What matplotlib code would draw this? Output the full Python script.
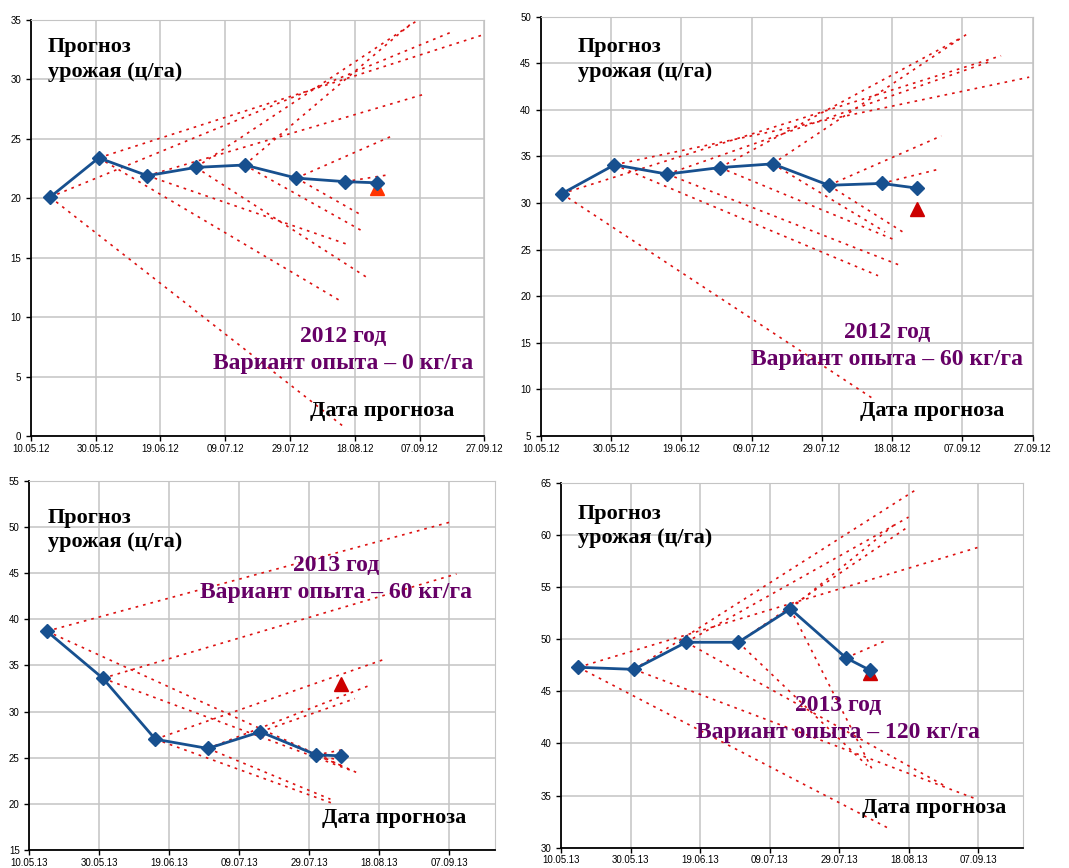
import numpy as np
import pandas as pd
import matplotlib
matplotlib.use('Agg')
import matplotlib.pyplot as plt
import matplotlib.dates as mdates

W, H = 1069, 868

# ---- 2012, 0 kg/ha
dates_a = ['16.05.12', '31.05.12', '15.06.12', '30.06.12', '15.07.12', '31.07.12', '15.08.12', '25.08.12']
yield_a = [20.1, 23.4, 21.9, 22.6, 22.8, 21.7, 21.4, 21.3]
fact_a = ('25.08.12', 20.9)
up_start_a = [0, 1, 2, 3, 4, 5, 6]
up_end_a = ['17.09.12', '26.09.12', '09.09.12', '06.09.12', '04.09.12', '30.08.12', '29.08.12']
up_val_a = [34.0, 33.7, 28.8, 34.9, 34.6, 25.3, 22.0]
lo_start_a = [0, 1, 2, 3, 4, 5]
lo_end_a = ['15.08.12', '14.08.12', '16.08.12', '22.08.12', '20.08.12', '20.08.12']
lo_val_a = [0.7, 11.3, 16.1, 13.3, 17.3, 18.6]

# ---- 2012, 60 kg/ha
dates_b = dates_a
yield_b = [31.0, 34.1, 33.1, 33.8, 34.2, 31.9, 32.1, 31.6]
fact_b = ('25.08.12', 29.4)
up_start_b = [0, 1, 2, 3, 4, 5, 6]
up_end_b = ['18.09.12', '26.09.12', '15.09.12', '07.09.12', '09.09.12', '01.09.12', '31.08.12']
up_val_b = [45.8, 43.5, 45.2, 47.8, 48.3, 37.2, 33.6]
lo_start_b = [0, 1, 2, 3, 4, 5]
lo_end_b = ['13.08.12', '14.08.12', '21.08.12', '19.08.12', '16.08.12', '21.08.12']
lo_val_b = [8.9, 22.2, 23.2, 26.0, 26.9, 26.9]

# ---- 2013, 60 kg/ha
dates_c = ['15.05.13', '31.05.13', '15.06.13', '30.06.13', '15.07.13', '31.07.13', '07.08.13']
yield_c = [38.7, 33.6, 27.0, 26.0, 27.8, 25.3, 25.2]
fact_c = ('07.08.13', 33.0)
up_start_c = [0, 1, 2, 3, 4, 5]
up_end_c = ['08.09.13', '09.09.13', '19.08.13', '15.08.13', '11.08.13', '08.08.13']
up_val_c = [50.6, 44.9, 35.6, 32.8, 31.4, 25.9]
lo_start_c = [0, 1, 2, 3, 4, 5]
lo_end_c = ['12.08.13', '10.08.13', '05.08.13', '04.08.13', '08.08.13', '08.08.13']
lo_val_c = [23.3, 23.6, 20.0, 20.5, 24.0, 24.6]

# ---- 2013, 120 kg/ha
dates_d = dates_c
yield_d = [47.3, 47.1, 49.7, 49.7, 52.9, 48.2, 47.0]
fact_d = ('07.08.13', 46.8)
up_start_d = [0, 1, 2, 3, 4, 5]
up_end_d = ['08.09.13', '20.08.13', '18.08.13', '18.08.13', '14.08.13', '11.08.13']
up_val_d = [58.9, 64.3, 61.7, 60.8, 61.0, 49.8]
lo_start_d = [0, 1, 2, 3, 4]
lo_end_d = ['12.08.13', '07.09.13', '28.08.13', '06.08.13', '08.08.13']
lo_val_d = [31.9, 34.6, 36.0, 37.9, 37.2]

titles = ['2012 год\nВариант опыта – 0 кг/га', '2012 год\nВариант опыта – 60 кг/га',
          '2013 год\nВариант опыта – 60 кг/га', '2013 год\nВариант опыта – 120 кг/га']

BLUE = '#17508f'
RED = '#dd1010'
PURPLE = '#660066'


def d(s):
    return pd.to_datetime(s, format='%d.%m.%y')


def panel(rect, dates, vals, fact, tri_color, ups, lows, x0, x1, ylo, yhi):
    l, t, r, b = rect
    ax = fig.add_axes([l / W, 1 - b / H, (r - l) / W, (b - t) / H])
    x = d(dates)
    for start, ends, evals in (ups, lows):
        for i, e, v in zip(start, ends, evals):
            ax.plot([x[i], d(e)], [vals[i], v], color=RED, lw=1.2,
                    linestyle=(0, (1.6, 3.0)), zorder=2)
    ax.plot(d(fact[0]), fact[1], marker='^', color=tri_color, ms=10, zorder=3, linestyle='none')
    ax.plot(x, vals, color=BLUE, lw=2, marker='D', ms=7, zorder=4)
    ax.set_xlim(d(x0), d(x1))
    ax.set_ylim(ylo, yhi)
    ax.set_xticks(pd.date_range(d(x0), d(x1), freq='20D'))
    ax.xaxis.set_major_formatter(mdates.DateFormatter('%d.%m.%y'))
    ax.set_yticks(np.arange(ylo, yhi + 1, 5))
    ax.grid(True, color='#c4c4c4', lw=1.1)
    ax.set_axisbelow(True)
    for s in ('top', 'right'):
        ax.spines[s].set_color('#c4c4c4')
    for s in ('left', 'bottom'):
        ax.spines[s].set_color('black')
        ax.spines[s].set_linewidth(1.3)
    ax.tick_params(direction='out', length=3.5, width=1, labelsize=7)
    ax.tick_params(axis='x', pad=2)
    for lab in ax.get_xticklabels() + ax.get_yticklabels():
        lab.set_family('Liberation Sans')
    return ax


fig = plt.figure(figsize=(W / 100, H / 100), dpi=100)

panel((30.7, 20, 484.3, 436), dates_a, yield_a, fact_a, '#ff3300',
      (up_start_a, up_end_a, up_val_a), (lo_start_a, lo_end_a, lo_val_a), '10.05.12', '27.09.12', 0, 35)
panel((540.7, 16.6, 1032.7, 436), dates_b, yield_b, fact_b, '#cc0000',
      (up_start_b, up_end_b, up_val_b), (lo_start_b, lo_end_b, lo_val_b), '10.05.12', '27.09.12', 5, 50)
panel((29.3, 480.7, 495, 850), dates_c, yield_c, fact_c, '#cc0000',
      (up_start_c, up_end_c, up_val_c), (lo_start_c, lo_end_c, lo_val_c), '10.05.13', '20.09.13', 15, 55)
panel((561, 482.7, 1023.3, 847.7), dates_d, yield_d, fact_d, '#cc0000',
      (up_start_d, up_end_d, up_val_d), (lo_start_d, lo_end_d, lo_val_d), '10.05.13', '20.09.13', 30, 65)


def ftext(x, y, s, **kw):
    fig.text(x / W, 1 - y / H, s, family='Liberation Serif', weight='bold', **kw)


# axis captions
for (x, y) in [(48, 37), (578, 37), (48, 508), (578, 504)]:
    ftext(x, y, 'Прогноз\nурожая (ц/га)', fontsize=16, va='top', ha='left', linespacing=1.3)
for (x, y) in [(310, 401), (860, 401), (322, 808), (862, 798)]:
    ftext(x, y, 'Дата прогноза', fontsize=16, va='top', ha='left')

# variant labels
for (x, y), s in zip([(343.5, 326), (887, 322), (336.5, 555), (838, 695)], titles):
    ftext(x, y, s, fontsize=17, va='top', ha='center', color=PURPLE, linespacing=1.35)

fig.savefig('out.png', dpi=100)
